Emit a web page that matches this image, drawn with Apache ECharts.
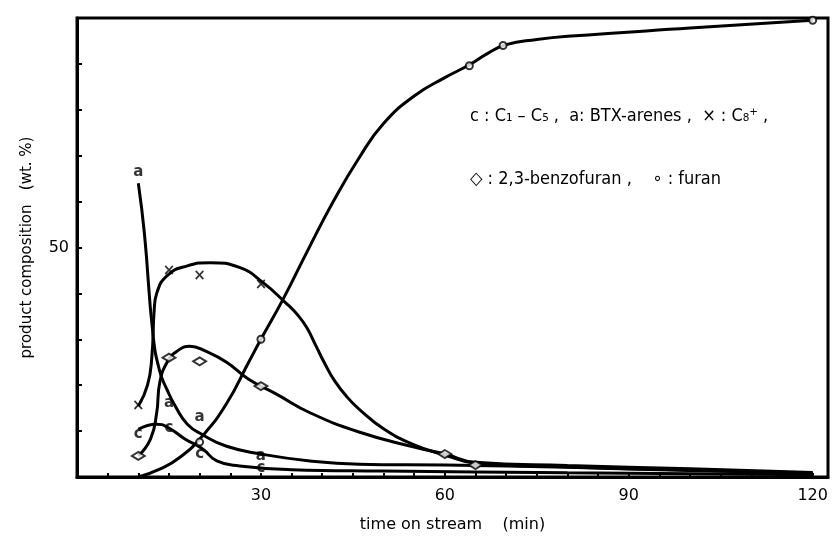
<!DOCTYPE html>
<html>
<head>
<meta charset="utf-8">
<script src="https://cdn.jsdelivr.net/npm/echarts@6/dist/echarts.min.js"></script>
<style>
  html, body { margin: 0; padding: 0; background: #fff; }
  #chart { width: 832px; height: 541px; }
</style>
</head>
<body>
<div id="chart"></div>
<script>
// hand-drawn curves: [time (min), wt.%]
const cCurve = [[10, 10.4], [13, 11.5], [14.7, 10.9], [17.6, 8.3], [20.5, 6.1], [22.8, 3.5], [26.5, 2.4], [35, 1.6], [50, 1.3], [80, 0.9], [120, 0.5]];
const aCurve = [[10, 64], [11, 53], [12.4, 31], [13.5, 23], [14.7, 19], [16, 15.5], [18, 11.5], [20.5, 9.2], [24.4, 6.7], [30, 5], [38, 3.5], [46, 2.8], [60, 2.6], [80, 2.1], [100, 1.4], [120, 0.8]];
const xCurve = [[10, 15.4], [11.5, 20], [12.2, 26], [12.6, 36.5], [13, 40], [14.8, 44], [18, 46], [21.7, 46.7], [26.6, 45.6], [30.3, 42.4], [34, 38], [36, 35.3], [37.5, 32.5], [39, 28.5], [40.5, 24.5], [42, 21], [44, 17.5], [46, 14.8], [50, 10.5], [55, 7], [60, 4.8], [65, 3], [80, 2.2], [100, 1.5], [120, 0.8]];
const dCurve = [[10, 4.6], [12, 8.3], [13, 14], [13.5, 20.6], [14.7, 25], [16.3, 27.4], [18.4, 28.5], [21, 27.4], [24.4, 25], [28, 21.3], [32.6, 18], [38, 14], [46, 9.8], [55, 6.5], [60, 5], [65, 3.2], [80, 2.5], [100, 1.8], [120, 1]];
const fCurve = [[10, 0], [13.5, 1.7], [16.8, 4.3], [20.5, 9], [24.4, 16], [28, 25], [30, 30], [33.6, 38.7], [37.5, 49], [41.8, 60], [46, 69.5], [50, 77], [55, 83], [60, 87], [64, 89.8], [67, 92.3], [70, 94.2], [75, 95.3], [80, 96], [100, 97.8], [120, 99.5]];

// measured points
const cPoints = [[10, 9.3], [15, 10.6], [20, 5], [30, 2]];
const aPoints = [[10, 66.5], [15, 16], [20, 13], [30, 4.6]];
const xPoints = [[10, 15.4], [15, 44.8], [20, 43.7], [30, 41.7]];
const dPoints = [[10, 4.6], [15, 26], [20, 25.2], [30, 19.8], [60, 5], [65, 2.6]];
const fPoints = [[20, 7.6], [30, 30], [64, 89.6], [69.5, 94], [120, 99.5]];

const xLabels = [30, 60, 90, 120];
const yLabels = [50];

const font = 'DejaVu Sans, sans-serif';
const legendFont = '18px DejaVu Sans Condensed, DejaVu Sans, sans-serif';

const curve = (data) => ({
  type: 'line',
  data: data,
  smooth: 0.5,
  showSymbol: false,
  lineStyle: { color: '#000', width: 3 },
  z: 3,
  silent: true
});

const letters = (data, txt) => ({
  type: 'scatter',
  data: data,
  symbol: 'circle',
  symbolSize: 1,
  itemStyle: { color: 'rgba(0,0,0,0)' },
  label: {
    show: true,
    position: 'inside',
    formatter: txt,
    color: '#000',
    fontFamily: font,
    fontSize: 15,
    fontWeight: 'bold'
  },
  z: 5,
  silent: true
});

const chart = echarts.init(document.getElementById('chart'));

chart.setOption({
  animation: false,
  backgroundColor: '#fff',
  grid: {
    left: 77,
    right: 4,
    top: 18,
    bottom: 64,
    show: true,
    borderColor: '#000',
    borderWidth: 3
  },
  xAxis: {
    type: 'value',
    min: 0,
    max: 122.5,
    interval: 5,
    name: 'time on stream    (min)',
    nameLocation: 'middle',
    nameGap: 40,
    nameTextStyle: { color: '#000', fontFamily: font, fontSize: 16 },
    axisLine: { lineStyle: { color: '#000', width: 3 } },
    axisTick: { inside: true, length: 4, lineStyle: { color: '#000', width: 2 } },
    axisLabel: {
      color: '#000',
      fontFamily: font,
      fontSize: 16,
      margin: 11,
      showMaxLabel: false,
      formatter: (v) => xLabels.includes(v) ? String(v) : ''
    },
    splitLine: { show: false }
  },
  yAxis: {
    type: 'value',
    min: 0,
    max: 100,
    interval: 10,
    name: 'product composition   (wt. %)',
    nameLocation: 'middle',
    nameGap: 42,
    nameTextStyle: { color: '#000', fontFamily: font, fontSize: 15 },
    axisLine: { lineStyle: { color: '#000', width: 3 } },
    axisTick: { inside: true, length: 5, lineStyle: { color: '#000', width: 2 } },
    axisLabel: {
      color: '#000',
      fontFamily: font,
      fontSize: 16,
      margin: 8,
      formatter: (v) => yLabels.includes(v) ? String(v) : ''
    },
    splitLine: { show: false }
  },
  graphic: [
    {
      type: 'text',
      left: 470,
      top: 107,
      style: {
        text: 'c : C₁ – C₅ ,  a: BTX-arenes ,  × : C₈⁺ ,',
        fill: '#000',
        font: legendFont
      }
    },
    {
      type: 'text',
      left: 470,
      top: 170,
      style: {
        text: '◇ : 2,3-benzofuran ,    ∘ : furan',
        fill: '#000',
        font: legendFont
      }
    }
  ],
  series: [
    curve(cCurve),
    curve(aCurve),
    curve(xCurve),
    curve(dCurve),
    curve(fCurve),
    letters(cPoints, 'c'),
    letters(aPoints, 'a'),
    letters(xPoints, '×'),
    {
      type: 'scatter',
      data: dPoints,
      symbol: 'diamond',
      symbolSize: [13, 8],
      itemStyle: { color: '#fff', borderColor: '#000', borderWidth: 2 },
      z: 5,
      silent: true
    },
    {
      type: 'scatter',
      data: fPoints,
      symbol: 'circle',
      symbolSize: 7,
      itemStyle: { color: '#fff', borderColor: '#000', borderWidth: 2 },
      z: 5,
      silent: true
    }
  ]
});
</script>
</body>
</html>
